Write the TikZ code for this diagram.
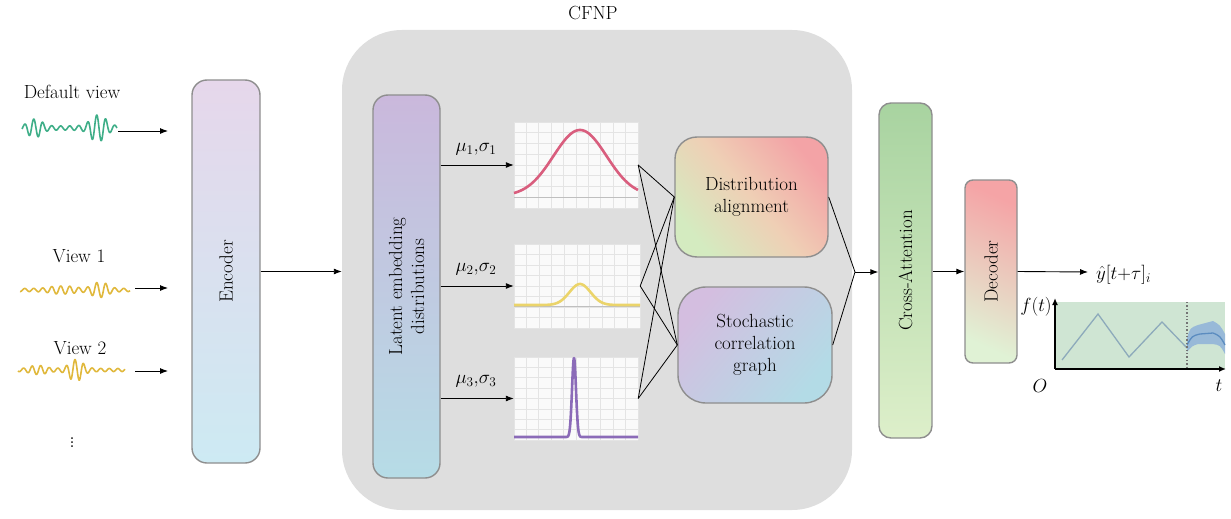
\RequirePackage{fix-cm}
\documentclass[tikz,border=0pt]{standalone}
\usetikzlibrary{arrows.meta,calc}
\definecolor{boxgray}{HTML}{8E8E8E}
\definecolor{cfnpgray}{HTML}{DEDEDE}
\definecolor{encT}{HTML}{E6D7EB}
\definecolor{encB}{HTML}{CDEAF3}
\definecolor{latT}{HTML}{CAB8DC}
\definecolor{latB}{HTML}{B6DCE6}
\definecolor{daT}{HTML}{F3A3A6}
\definecolor{daM}{HTML}{EFCFB5}
\definecolor{daB}{HTML}{D4EBC0}
\definecolor{scT}{HTML}{D4BEE0}
\definecolor{scB}{HTML}{B3DBE6}
\definecolor{caT}{HTML}{A8D3A0}
\definecolor{caB}{HTML}{DDEFCA}
\definecolor{deT}{HTML}{F5A4A6}
\definecolor{deB}{HTML}{E0F2D5}
\definecolor{sigGreen}{HTML}{3FAE88}
\definecolor{sigYellow}{HTML}{E0B83C}
\definecolor{curvePink}{HTML}{D95E7E}
\definecolor{curveYellow}{HTML}{EBD46A}
\definecolor{curvePurple}{HTML}{8B6BB8}
\definecolor{gridc}{HTML}{E4E4E4}
\definecolor{plotbg}{HTML}{FAFAFA}
\definecolor{outgreen}{HTML}{CFE5D3}
\definecolor{triline}{HTML}{8DAABB}
\definecolor{bandblue}{HTML}{7FA7CF}
\definecolor{meanblue}{HTML}{5B8CC0}
\begin{document}
\begin{tikzpicture}[x=1pt,y=-1pt,
  every node/.style={font=\fontsize{19}{22}\selectfont},
  blockbox/.style={draw=boxgray, line width=1.4pt, inner sep=0pt},
  plotbox/.style={fill=plotbg, inner sep=0pt},
  arr/.style={line width=0.9pt, -{Latex[length=8pt,width=6pt]}},
  conn/.style={line width=0.8pt},
  sig/.style={line width=1.6pt, line join=round, smooth},
  curve/.style={line width=2.6pt, line join=round}
]
\useasboundingbox (0,0) rectangle (1231,519);

% CFNP container
\node[fill=cfnpgray, rounded corners=60pt, minimum width=510pt, minimum height=480pt, inner sep=0pt] (cfnp) at (597,270) {};
\node (cfnpl) at (593,13) {CFNP};

% Inputs
\node (dv) at (72,92) {Default view};
\draw[sigGreen, sig] plot[domain=22:117, samples=220]
  (\x, {128 + (2 + 7/(1+((\x-35)/8)^4) + 11/(1+((\x-98)/9)^4))*sin(40*\x)});
\coordinate (dvs) at (118,131);
\coordinate (dve) at (168,131);
\draw[arr] (dvs) -- (dve);

\node (v1) at (79,256) {View 1};
\draw[sigYellow, sig] plot[domain=20:130, samples=220]
  (\x, {290 + (1.5 + 6/(1+((\x-100)/9)^4) + 2.5/(1+((\x-62)/14)^4))*sin(40*\x)});
\coordinate (v1s) at (135,288);
\coordinate (v1e) at (168,288);
\draw[arr] (v1s) -- (v1e);

\node (v2) at (80,348) {View 2};
\draw[sigYellow, sig] plot[domain=18:125, samples=220]
  (\x, {370 + (1.5 + 9/(1+((\x-76)/8)^4) + 3/(1+((\x-38)/9)^4))*sin(42*\x)});
\coordinate (v2s) at (135,371);
\coordinate (v2e) at (168,371);
\draw[arr] (v2s) -- (v2e);

\node[font=\fontsize{22}{24}\selectfont] (vd) at (72,440) {$\vdots$};

% Encoder
\node[blockbox, rounded corners=15pt, minimum width=68pt, minimum height=383pt,
      top color=encT, bottom color=encB] (enc) at (226,271.5) {};
\node[rotate=90] (encl) at (enc) {Encoder};
\draw[arr] (enc.east) -- (cfnp.west |- enc.east);

% Latent embedding
\node[blockbox, rounded corners=15pt, minimum width=67pt, minimum height=383pt,
      top color=latT, bottom color=latB] (lat) at (406.5,286.5) {};
\node[rotate=90, align=center] (latl) at (lat) {Latent embedding\\distributions};

% Plots
\node[plotbox, minimum width=124pt, minimum height=86pt] (p1) at (576,165) {};
\node[plotbox, minimum width=126pt, minimum height=84pt] (p2) at (577,286) {};
\node[plotbox, minimum width=124pt, minimum height=83pt] (p3) at (576,398.5) {};

\foreach \xx in {0,...,10} {
  \draw[gridc, line width=0.5pt] ($(p1.north west)+(\xx*12.4,0)$) -- ($(p1.south west)+(\xx*12.4,0)$);
  \draw[gridc, line width=0.5pt] ($(p2.north west)+(\xx*12.6,0)$) -- ($(p2.south west)+(\xx*12.6,0)$);
  \draw[gridc, line width=0.5pt] ($(p3.north west)+(\xx*12.4,0)$) -- ($(p3.south west)+(\xx*12.4,0)$);
}
\foreach \yy in {0,...,8} {
  \draw[gridc, line width=0.5pt] ($(p1.north west)+(0,\yy*10.75)$) -- ($(p1.north east)+(0,\yy*10.75)$);
  \draw[gridc, line width=0.5pt] ($(p2.north west)+(0,\yy*10.5)$) -- ($(p2.north east)+(0,\yy*10.5)$);
  \draw[gridc, line width=0.5pt] ($(p3.north west)+(0,\yy*10.4)$) -- ($(p3.north east)+(0,\yy*10.4)$);
}
\draw[black!25, line width=0.8pt] (514,197) -- (638,197);
\draw[black!25, line width=0.8pt] (514,306) -- (640,306);
\draw[curvePink, curve] plot[domain=514:638, samples=120, smooth] (\x, {196 - 66*exp(-((\x-580)/37.5)^2)});
\draw[curveYellow, curve] plot[domain=514:640, samples=120, smooth] (\x, {305 - 21*exp(-((\x-580)/15)^2)});
\draw[curvePurple, curve] (514,437) -- (562,437)
  plot[domain=562:586, samples=120, smooth] (\x, {437 - 79*exp(-((\x-574)/2.8)^2)}) -- (638,437);

% Latent -> plots
\draw[arr] (lat.east |- p1.west) -- (p1.west);
\draw[arr] (lat.east |- p2.west) -- (p2.west);
\draw[arr] (lat.east |- p3.west) -- (p3.west);
\node (m1) at (476,149) {$\mu_1{,}\sigma_1$};
\node (m2) at (476,269) {$\mu_2{,}\sigma_2$};
\node (m3) at (476,381) {$\mu_3{,}\sigma_3$};

% Distribution alignment and Stochastic correlation graph
\node[blockbox, rounded corners=22pt, minimum width=153pt, minimum height=120pt,
      top color=daT, bottom color=daB, middle color=daM, shading angle=-50,
      align=center] (da) at (751.5,197) {Distribution\\alignment};
\node[blockbox, rounded corners=28pt, minimum width=154pt, minimum height=116pt,
      top color=scT, bottom color=scB, shading angle=50,
      align=center] (sc) at (755,345) {Stochastic\\correlation\\graph};

\foreach \p in {p1,p2,p3} {
  \draw[conn] (\p.east) -- (da.west);
  \draw[conn] (\p.east) -- (sc.west);
}
\coordinate (cv) at (855,272);
\draw[conn] (da.east) -- (cv) -- (sc.east);

% Cross-Attention
\node[blockbox, rounded corners=12pt, minimum width=53pt, minimum height=335pt,
      top color=caT, bottom color=caB] (ca) at (905.5,270.5) {};
\node[rotate=90] (cal) at (ca) {Cross-Attention};
\draw[arr] (cv) -- (cv -| ca.west);

% Decoder
\node[blockbox, rounded corners=8pt, minimum width=52pt, minimum height=183pt,
      top color=deT, bottom color=deB, shading angle=-25] (de) at (991,271.5) {};
\node[rotate=90] (del) at (de) {Decoder};
\draw[arr] (ca.east |- de.west) -- (de.west);

% Output
\coordinate (ye) at (1088,272);
\draw[arr] (de.east) -- (ye);
\node[anchor=west, inner sep=2pt] (yhat) at (1094,275) {$\hat{y}[t{+}\tau]_i$};

% Output plot
\coordinate (O) at (1055,369);
\fill[outgreen] (1055,302) rectangle (1225,369);
\fill[bandblue!80] (1187,338) .. controls (1190,328) .. (1198,325) -- (1213,321) .. controls (1220,325) .. (1225,334)
   -- (1225,354) .. controls (1220,345) .. (1212,344) -- (1198,344) .. controls (1192,346) .. (1187,352) -- cycle;
\draw[meanblue, line width=1.3pt] (1187,345) .. controls (1192,336) .. (1200,334) -- (1213,333) .. controls (1220,336) .. (1225,345);
\draw[triline, line width=1.3pt] (1062,360) -- (1098,314) -- (1129,357) -- (1162,322) -- (1187,348);
\draw[black!55, dotted, line width=1.4pt] (1187,302) -- (1187,369);
\draw[line width=1.6pt, -{Latex[length=7pt,width=6pt]}] (O) -- (1055,298);
\draw[line width=1.6pt, -{Latex[length=7pt,width=6pt]}] (O) -- (1226,369);
\node (ft) at (1036,307) {$f(t)$};
\node (ol) at (1040,386) {$O$};
\node (tl) at (1219,386) {$t$};
\end{tikzpicture}
\end{document}
